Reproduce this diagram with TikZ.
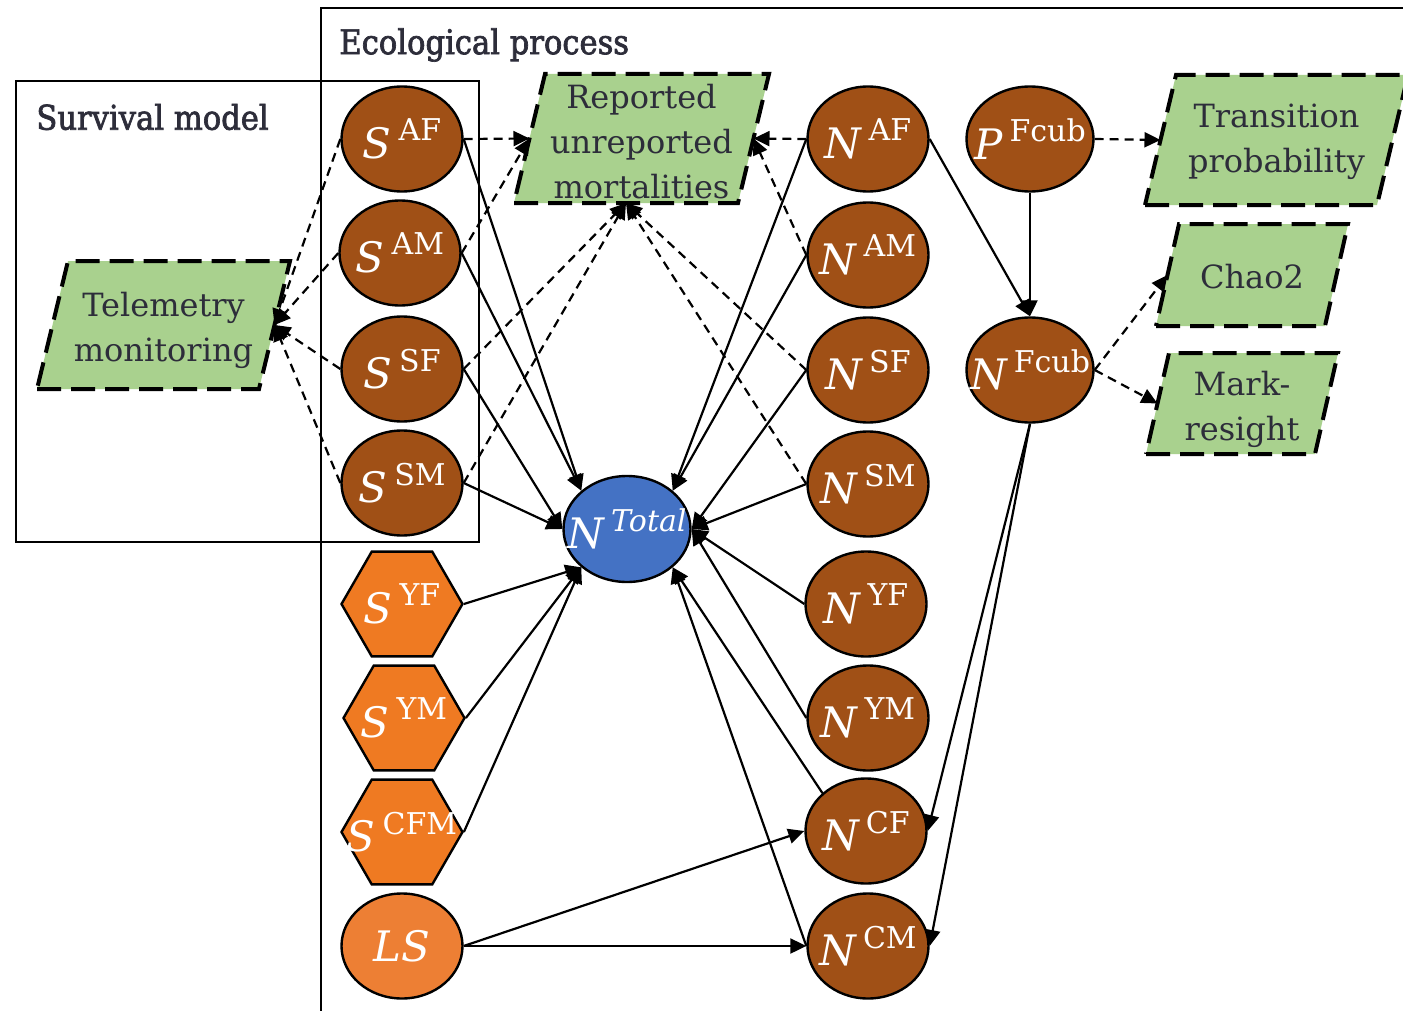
\documentclass[tikz,border=0pt]{standalone}
\usepackage{fontspec}
\setmainfont{DejaVu Serif}
\newfontfamily\ttlfont[FakeStretch=0.9,FakeBold=2]{DejaVu Serif}
\usetikzlibrary{shapes.geometric,arrows.meta}
\definecolor{brn}{RGB}{160,80,22}
\definecolor{hexo}{RGB}{239,122,34}
\definecolor{lso}{RGB}{237,127,52}
\definecolor{blu}{RGB}{68,114,196}
\definecolor{grn}{RGB}{169,209,142}
\definecolor{txt}{RGB}{45,45,58}
\newcommand\mylbl[2]{{\itshape #1}\,\raisebox{0.42em}{\fontsize{15}{15}\selectfont #2}}
% parallelogram: name, cx, cy, width, height, slant, text, text y offset
\newcommand\mypara[8]{%
  \draw[pbox] ({#2-#4/2},{#3+#5/2}) -- ({#2+#4/2-#6},{#3+#5/2}) -- ({#2+#4/2},{#3-#5/2}) -- ({#2-#4/2+#6},{#3-#5/2}) -- cycle;
  \node[ptext] (#1) at (#2,{#3+#8}) {#7};
  \coordinate (#1-l) at ({#2-#4/2+#6/2},#3);
  \coordinate (#1-r) at ({#2+#4/2-#6/2},#3);
  \coordinate (#1-b) at ({#2-#6/2},{#3+#5/2});
}
\begin{document}
\begin{tikzpicture}[x=0.5pt,y=-0.5pt,
  wlab/.style={text=white,font=\fontsize{21}{21}\selectfont,inner sep=0pt},
  ell/.style={ellipse,draw=black,line width=1.2pt,fill=brn,minimum width=60.5pt,minimum height=52.5pt,inner sep=0pt},
  hexa/.style={regular polygon,regular polygon sides=6,draw=black,line width=1.2pt,fill=hexo,minimum size=60.5pt,inner sep=0pt},
  pbox/.style={draw=black,line width=2pt,dash pattern=on 12pt off 5pt,fill=grn},
  ptext/.style={text=txt,align=center,font=\fontsize{16}{22.5}\selectfont,inner sep=0pt},
  ttl/.style={text=txt,font=\ttlfont\fontsize{17}{17}\selectfont,inner sep=0pt,anchor=west},
  sol/.style={-{Triangle[length=8pt,width=7.5pt]},line width=1.1pt},
  dsh/.style={sol,dash pattern=on 4.5pt off 3pt}
]
\useasboundingbox (0,0) rectangle (1403,1011);
\fill[white] (0,0) rectangle (1403,1011);
% frames
\draw[line width=1.2pt] (321,1011) -- (321,8) -- (1403,8);
\draw[line width=1.2pt] (16,81) rectangle (479,542);
\node[ttl] (teco) at (339,45) {Ecological process};
\node[ttl] (tsur) at (36,117) {Survival model};

% S column
\node[ell,label={[wlab]center:\mylbl{S}{AF}}] (saf) at (402,139) {};
\node[ell,label={[wlab]center:\mylbl{S}{AM}}] (sam) at (400,253) {};
\node[ell,label={[wlab]center:\mylbl{S}{SF}}] (ssf) at (402,369) {};
\node[ell,label={[wlab]center:\mylbl{S}{SM}}] (ssm) at (402,483) {};
\node[hexa,label={[wlab]center:\mylbl{S}{YF}}] (syf) at (402,604) {};
\node[hexa,label={[wlab]center:\mylbl{S}{YM}}] (sym) at (404,718) {};
\node[hexa,label={[wlab]center:\mylbl{S}{CFM}}] (scfm) at (402,832) {};
\node[ell,fill=lso,label={[wlab]center:{\itshape LS}}] (ls) at (402,946) {};

% N total
\node[ell,fill=blu,minimum width=63.5pt,minimum height=53pt,label={[wlab]center:\mylbl{N}{\itshape Total}}] (ntot) at (627,529) {};

% N column
\node[ell,label={[wlab]center:\mylbl{N}{AF}}] (naf) at (868,139) {};
\node[ell,label={[wlab]center:\mylbl{N}{AM}}] (nam) at (868,255) {};
\node[ell,label={[wlab]center:\mylbl{N}{SF}}] (nsf) at (868,370) {};
\node[ell,label={[wlab]center:\mylbl{N}{SM}}] (nsm) at (868,484) {};
\node[ell,label={[wlab]center:\mylbl{N}{YF}}] (nyf) at (866,604) {};
\node[ell,label={[wlab]center:\mylbl{N}{YM}}] (nym) at (868,718) {};
\node[ell,label={[wlab]center:\mylbl{N}{CF}}] (ncf) at (866,831) {};
\node[ell,label={[wlab]center:\mylbl{N}{CM}}] (ncm) at (868,946) {};

% Fcub
\node[ell,minimum width=63.5pt,label={[wlab]center:\mylbl{P}{Fcub}}] (pfc) at (1030,139) {};
\node[ell,minimum width=63.5pt,label={[wlab]center:\mylbl{N}{Fcub}}] (nfc) at (1030,370) {};

% data boxes
\mypara{rep}{641.5}{138.5}{255}{129}{31}{Reported\\unreported\\mortalities}{3}
\mypara{tel}{163.5}{325}{253}{128}{31}{Telemetry\\monitoring}{5}
\mypara{trans}{1276.5}{140}{263}{130}{31}{Transition\\probability}{2}
\mypara{chao}{1252}{275}{192}{102}{23}{Chao2}{2}
\mypara{mark}{1242}{403.5}{192}{101}{23}{Mark-\\resight}{6}

% solid connectors
\draw[sol] (saf.east) -- (ntot.north west);
\draw[sol] (sam.east) -- (ntot.north west);
\draw[sol] (ssf.east) -- (ntot.west);
\draw[sol] (ssm.east) -- (ntot.west);
\draw[sol] (syf.east) -- (ntot.south west);
\draw[sol] (sym.east) -- (ntot.south west);
\draw[sol] (scfm.east) -- (ntot.south west);
\draw[sol] (naf.west) -- (ntot.north east);
\draw[sol] (nam.west) -- (ntot.north east);
\draw[sol] (nsf.west) -- (ntot.east);
\draw[sol] (nsm.west) -- (ntot.east);
\draw[sol] (nyf.west) -- (ntot.east);
\draw[sol] (nym.west) -- (ntot.east);
\draw[sol] (ncf.north west) -- (ntot.south east);
\draw[sol] (ncm.west) -- (ntot.south east);
\draw[sol] (ls.east) -- (ncf.west);
\draw[sol] (ls.east) -- (ncm.west);
\draw[sol] (naf.east) -- (nfc.north);
\draw[sol] (pfc.south) -- (nfc.north);
\draw[sol] (nfc.south) -- (ncf.east);
\draw[sol] (nfc.south) -- (ncm.east);

% dashed connectors
\draw[dsh] (saf.east) -- (rep-l);
\draw[dsh] (sam.east) -- (rep-l);
\draw[dsh] (ssf.east) -- (rep-b);
\draw[dsh] (ssm.east) -- (rep-b);
\draw[dsh] (naf.west) -- (rep-r);
\draw[dsh] (nam.west) -- (rep-r);
\draw[dsh] (nsf.west) -- (rep-b);
\draw[dsh] (nsm.west) -- (rep-b);
\draw[dsh] (saf.west) -- (tel-r);
\draw[dsh] (sam.west) -- (tel-r);
\draw[dsh] (ssf.west) -- (tel-r);
\draw[dsh] (ssm.west) -- (tel-r);
\draw[dsh] (pfc.east) -- (trans-l);
\draw[dsh] (nfc.east) -- (chao-l);
\draw[dsh] (nfc.east) -- (mark-l);
\end{tikzpicture}
\end{document}
